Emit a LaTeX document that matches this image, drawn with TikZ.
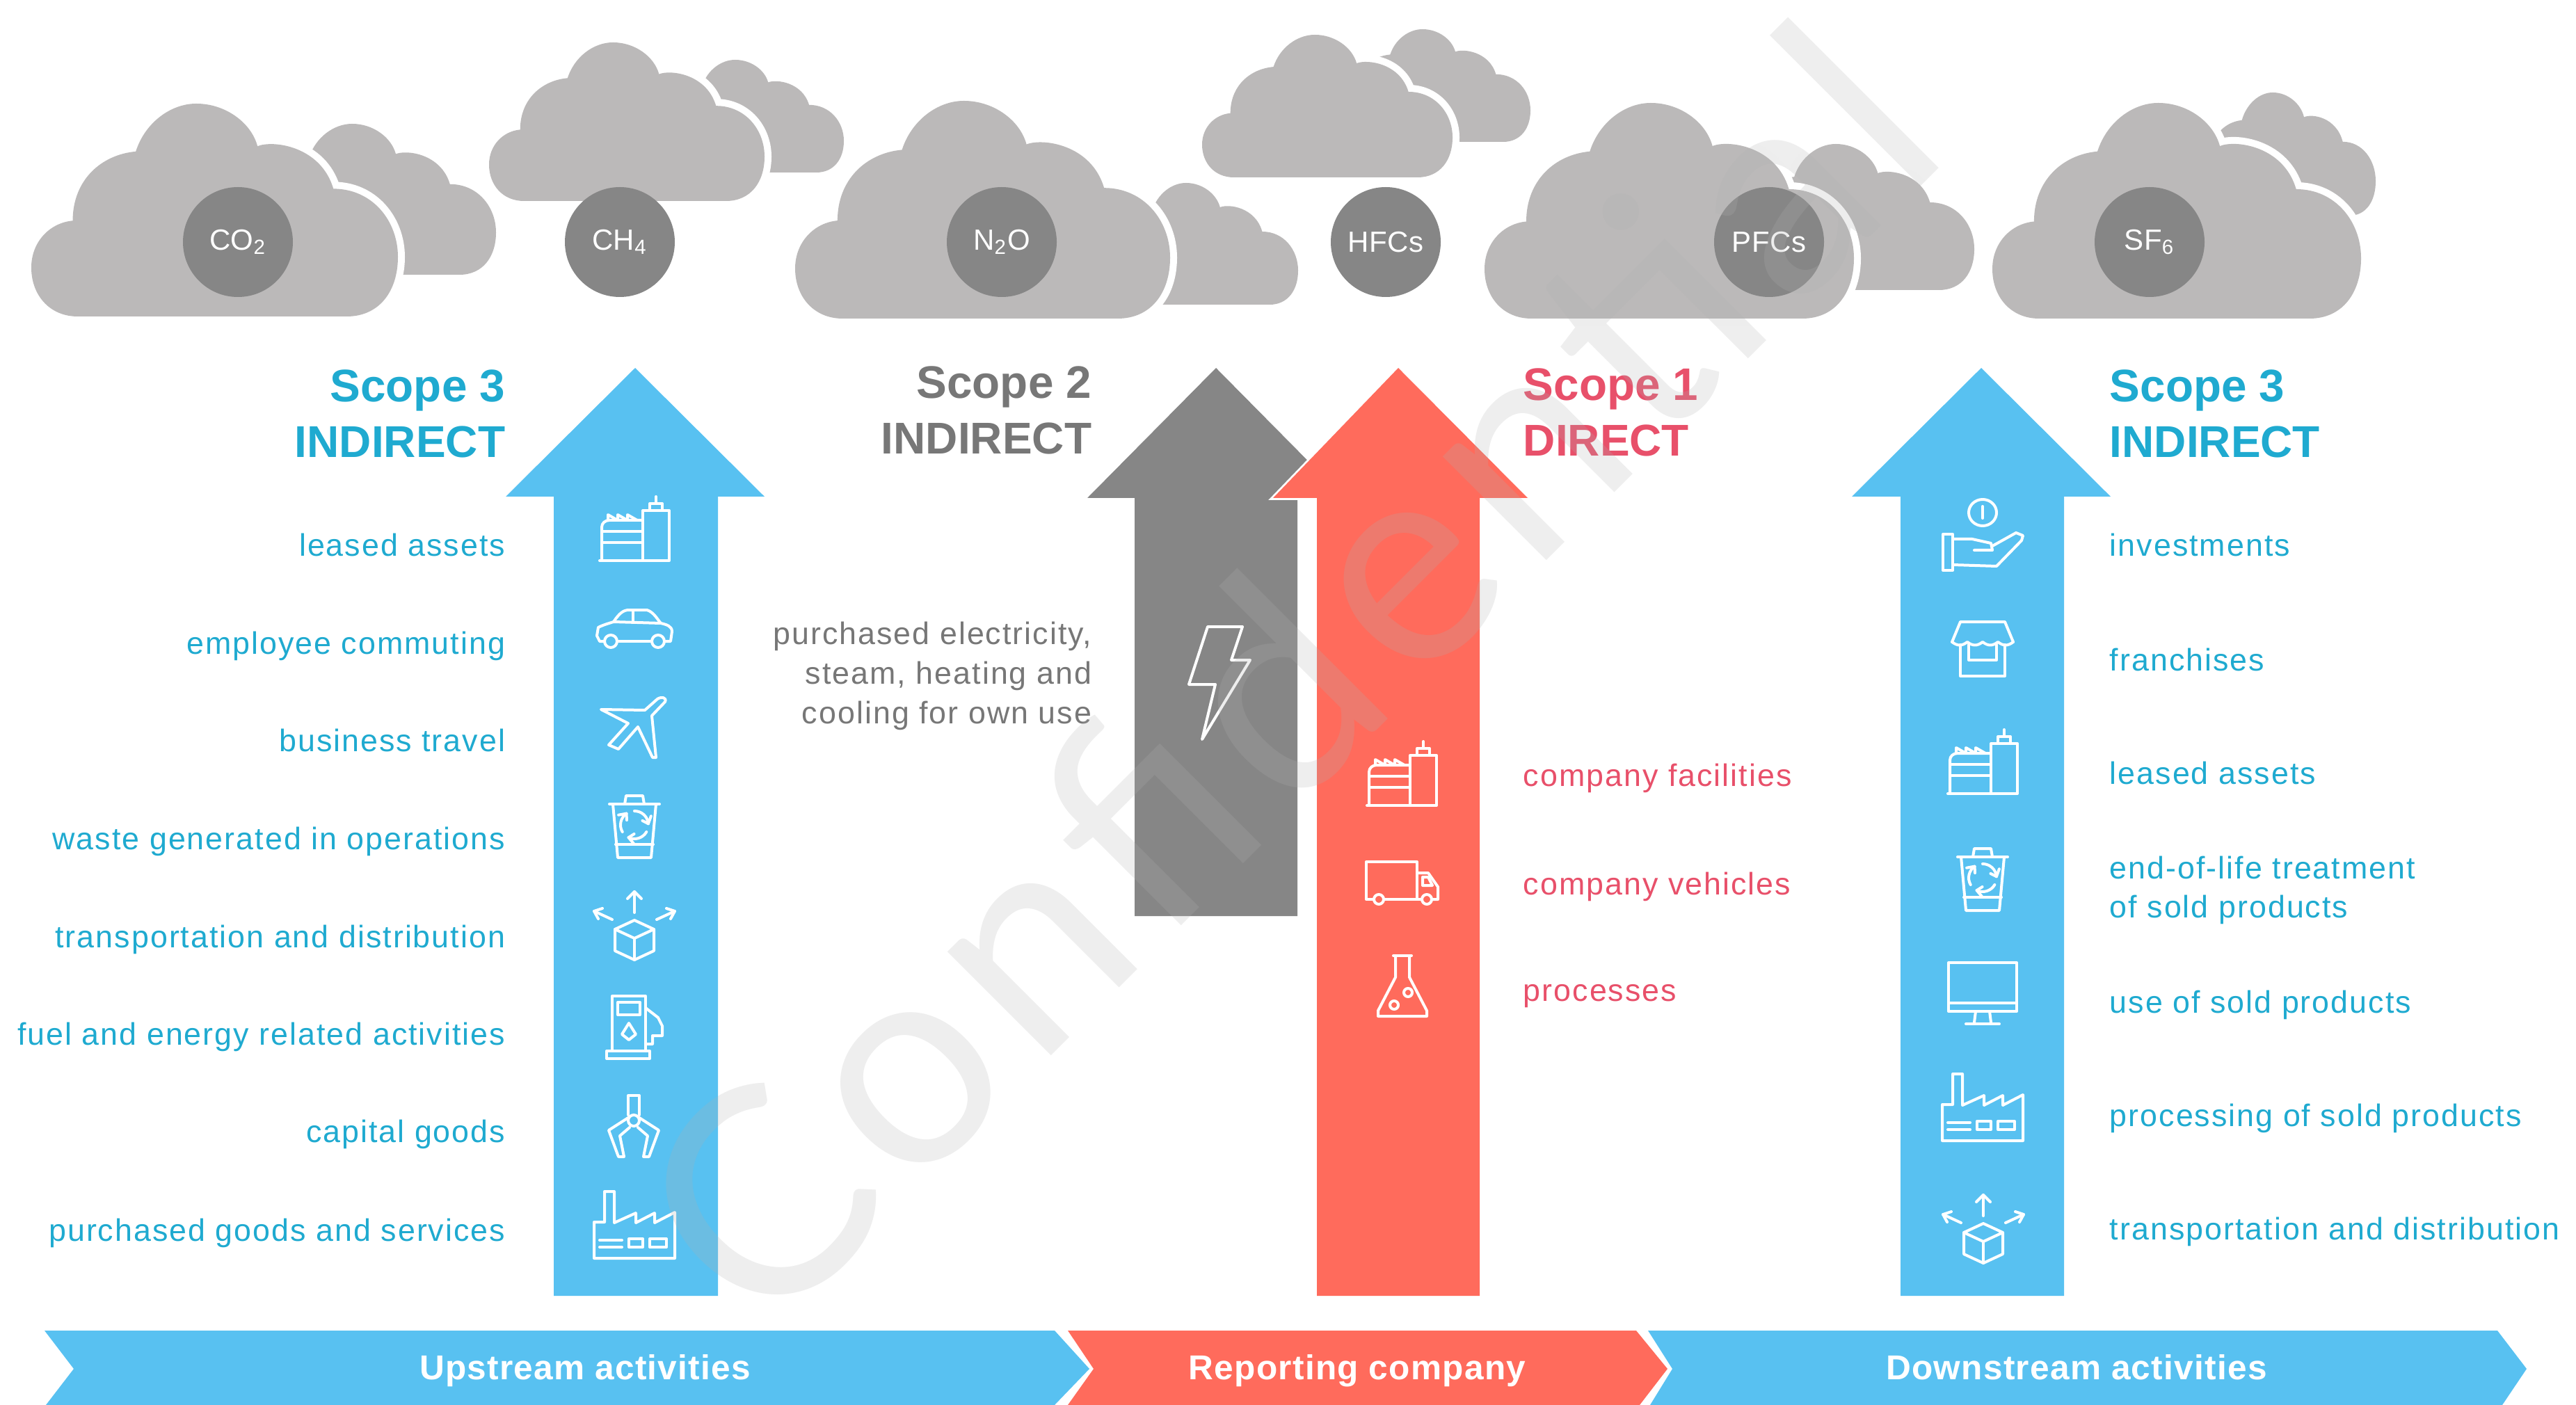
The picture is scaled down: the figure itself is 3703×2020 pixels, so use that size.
\documentclass[tikz,border=0pt]{standalone}
\usepackage{fontspec}
\setmainfont[LetterSpace=4.5]{Liberation Sans}
\newfontfamily\titlefont{Liberation Sans}
\newfontfamily\bandfont[LetterSpace=2.5]{Liberation Sans}
\newfontfamily\gasfont[LetterSpace=1]{Liberation Sans}
\newfontfamily\wmfont[LetterSpace=5.3]{Lato}
\definecolor{skyb}{HTML}{58C1F1}
\definecolor{coral}{HTML}{FF6B5C}
\definecolor{arrowgray}{HTML}{868686}
\definecolor{cloudgray}{HTML}{BBB9B9}
\definecolor{teal}{HTML}{1FAAD0}
\definecolor{rosetext}{HTML}{E8506A}
\definecolor{graytext}{HTML}{777777}
\tikzset{
  bigarrow/.style={fill=#1,draw=none},
  gas/.style={circle,fill=arrowgray,text=white,minimum size=39.5pt,inner sep=0pt,font=\fontsize{10.5}{12}\selectfont\gasfont},
  ic/.style={draw=white,line width=1pt,line join=round,line cap=round},
  lab/.style={inner sep=0pt,font=\fontsize{11.2}{14.2}\selectfont},
  sl/.style={lab,text height=8pt,text depth=2.2pt},
  lableft/.style={sl,anchor=east,text=teal},
  labright/.style={sl,anchor=west,text=teal},
  title/.style={inner sep=0pt,font=\fontsize{16}{20}\selectfont\titlefont\bfseries},
  bandtext/.style={inner sep=0pt,text=white,text height=9pt,text depth=2.5pt,font=\fontsize{12.4}{14}\selectfont\bandfont\bfseries}
}
\newcommand{\scopeword}[1]{{\fontsize{16.4}{20}\selectfont #1}}
\newcommand{\cloudpath}{(0.127,1) .. controls (0.05,1) and (0,0.9) .. (0,0.77) .. controls (0,0.65) and (0.05,0.56) .. (0.113,0.55)
 .. controls (0.113,0.36) and (0.19,0.24) .. (0.285,0.225)
 .. controls (0.31,0.09) and (0.38,0) .. (0.45,0)
 .. controls (0.53,0) and (0.60,0.09) .. (0.617,0.2)
 .. controls (0.66,0.17) and (0.79,0.20) .. (0.824,0.40)
 .. controls (0.93,0.40) and (1,0.55) .. (1,0.72)
 .. controls (1,0.88) and (0.95,1) .. (0.86,1) -- cycle}
\newcommand{\gascloud}[4]{\begin{scope}[shift={(#1,#2)},xscale=#3,yscale=#4]
 \path[draw=white,line width=5pt,line join=round] \cloudpath;
 \path[fill=cloudgray] \cloudpath;
\end{scope}}
\newcommand{\ictank}[2]{\begin{scope}[shift={(#1,#2)},ic]
 \draw[ic] (-50,46) -- (50,46) -- (50,-26) -- (12,-26) -- (12,46);
 \draw[ic] (22,-26)--(22,-36)--(40,-36)--(40,-26);
 \draw[ic] (31,-36)--(31,-46);
 \draw[ic] (-47,46) -- (-47,-2) .. controls (-47,-8) and (-42,-12) .. (-36,-12) -- (12,-12);
 \draw[ic] (-47,4)--(12,4);
 \draw[ic] (-47,20)--(12,20);
 \draw[ic] (-38,-12)--(-38,-20)--(-24,-12)--(-24,-20)--(-10,-12)--(-10,-20)--(4,-12);
\end{scope}}
\newcommand{\iccar}[2]{\begin{scope}[shift={(#1,#2)}]
 \draw[ic] (-24,18) -- (24,18);
 \draw[ic] (-44,18) -- (-50,18) -- (-54,10) -- (-52,-2) .. controls (-44,-6) and (-36,-8) .. (-30,-10) .. controls (-22,-22) and (-16,-27) .. (-8,-27) -- (18,-27) .. controls (28,-24) and (34,-12) .. (38,-8) .. controls (46,-6) and (54,-4) .. (54,4) -- (52,18) -- (44,18);
 \draw[ic] (-30,-10)--(38,-8);
 \draw[ic] (-2,-27)--(-2,-9);
 \draw[ic] (-34,18) circle (9);
 \draw[ic] (34,18) circle (9);
\end{scope}}
\newcommand{\icplane}[2]{\begin{scope}[shift={(#1,#2)}]
 \draw[ic] (-47,-25) -- (16,-24) -- (34,-40) .. controls (40,-44) and (48,-42) .. (45,-36) -- (26,-16) -- (32,44) -- (27,44) -- (6,0) -- (-22,32) -- (-36,26) -- (-8,-5) -- cycle;
\end{scope}}
\newcommand{\icbin}[2]{\begin{scope}[shift={(#1,#2)}]
 \draw[ic] (-36,-32)--(36,-32);
 \draw[ic] (-14,-32)--(-12,-44)--(12,-44)--(14,-32);
 \draw[ic] (-31,-32)--(-24,45)--(24,45)--(31,-32);
 \foreach \a in {30,150,270}{
   \pgfmathsetmacro{\e}{\a+85}
   \pgfmathsetmacro{\f}{\a+62}
   \draw[ic] ({20*cos(\a)},{-2+20*sin(\a)}) arc (\a:\e:20);
   \draw[ic] ({13*cos(\f)},{-2+13*sin(\f)})--({20*cos(\e)},{-2+20*sin(\e)})--({27*cos(\f)},{-2+27*sin(\f)});
 }
 \draw[ic] (-27,26)--(27,26);
\end{scope}}
\newcommand{\icbox}[2]{\begin{scope}[shift={(#1,#2)}]
 \draw[ic] (0,-7)--(28,6)--(28,37)--(0,50)--(-28,37)--(-28,6)--cycle;
 \draw[ic] (-28,6)--(0,19)--(28,6);
 \draw[ic] (0,19)--(0,50);
 \draw[ic] (0,-18)--(0,-48);
 \draw[ic] (-10,-38)--(0,-48)--(10,-38);
 \draw[ic] (-32,-8)--(-58,-20);
 \draw[ic] (-46,-24)--(-58,-20)--(-52,-9);
 \draw[ic] (32,-8)--(58,-20);
 \draw[ic] (46,-24)--(58,-20)--(52,-9);
\end{scope}}
\newcommand{\icfuel}[2]{\begin{scope}[shift={(#1,#2)}]
 \draw[ic] (-40,34) rectangle (22,45);
 \draw[ic] (-32,34)--(-32,-45)--(16,-45)--(16,34);
 \draw[ic] (-24,-36) rectangle (8,-18);
 \draw[ic] (-8,-6)--(2,10)--(-8,18)--(-18,10)--cycle;
 \draw[ic] (16,-28)--(34,-14)--(40,-2)--(40,12)--(26,12)--(26,24)--(16,24);
\end{scope}}
\newcommand{\icclaw}[2]{\begin{scope}[shift={(#1,#2)}]
 \draw[ic] (-8,-16)--(-8,-44)--(8,-44)--(8,-16);
 \draw[ic] (0,-8) circle (8);
 \draw[ic] (-8,-12) -- (-36,6) -- (-22,44) -- (-14,44) -- (-20,14) -- (-6,2);
 \draw[ic] (8,-12) -- (36,6) -- (22,44) -- (14,44) -- (20,14) -- (6,2);
\end{scope}}
\newcommand{\icfactory}[2]{\begin{scope}[shift={(#1,#2)}]
 \draw[ic] (-58,48)--(-58,-4)--(-43,-4)--(-43,-48)--(-29,-48)--(-29,-3)--(2,-17)--(2,-3)--(29,-17)--(29,-3)--(58,-18)--(58,48)--cycle;
 \draw[ic] (-50,22)--(-18,22);
 \draw[ic] (-50,32)--(-18,32);
 \draw[ic] (-8,20) rectangle (12,32);
 \draw[ic] (22,20) rectangle (46,32);
\end{scope}}
\newcommand{\ichand}[2]{\begin{scope}[shift={(#1,#2)}]
 \draw[ic] (0,-32) ellipse (20 and 19);
 \draw[ic] (0,-41)--(0,-24);
 \draw[ic] (-57,-1) rectangle (-43,51);
 \draw[ic] (-43,6)--(-15,6)--(12,12)--(14,22)--(-12,22);
 \draw[ic] (14,16)--(48,-3)--(58,1)--(56,8)--(20,45)--(-43,43);
\end{scope}}
\newcommand{\icstore}[2]{\begin{scope}[shift={(#1,#2)}]
 \draw[ic] (-44,-10)--(-32,-39)--(32,-39)--(44,-10);
 \draw[ic] (-44,-10) .. controls (-36,-4) and (-30,-4) .. (-22,-10) .. controls (-14,-4) and (-8,-4) .. (0,-10) .. controls (8,-4) and (14,-4) .. (22,-10) .. controls (30,-4) and (36,-4) .. (44,-10);
 \draw[ic] (-32,-6)--(-32,39)--(32,39)--(32,-6);
 \draw[ic] (-20,-6)--(-20,16)--(20,16)--(20,-6);
\end{scope}}
\newcommand{\icmonitor}[2]{\begin{scope}[shift={(#1,#2)}]
 \draw[ic] (-49,-44) rectangle (49,26);
 \draw[ic] (-49,14)--(49,14);
 \draw[ic] (-10,26)--(-12,42);
 \draw[ic] (10,26)--(12,42);
 \draw[ic] (-24,44)--(24,44);
\end{scope}}
\newcommand{\ictruck}[2]{\begin{scope}[shift={(#1,#2)}]
 \draw[ic] (-26,24)--(22,24)--(22,-30)--(-51,-30)--(-51,24)--(-40,24);
 \draw[ic] (22,-14)--(38,-14)--(52,6)--(52,24)--(44,24);
 \draw[ic] (30,-8)--(38,-8)--(44,4)--(30,4)--cycle;
 \draw[ic] (22,24)--(28,24);
 \draw[ic] (-33,24) circle (7);
 \draw[ic] (36,24) circle (7);
\end{scope}}
\newcommand{\icflask}[2]{\begin{scope}[shift={(#1,#2)}]
 \draw[ic] (-13,-43)--(13,-43);
 \draw[ic] (-10,-43)--(-10,-12)--(-35,36)--(-35,44)--(35,44)--(35,36)--(10,-12)--(10,-43);
 \draw[ic] (-12,28) circle (6);
 \draw[ic] (8,10) circle (6);
\end{scope}}
\begin{document}
\begin{tikzpicture}[x=0.25pt,y=-0.25pt]
\useasboundingbox (0,0) rectangle (3703,2020);
\clip (0,0) rectangle (3703,2020);
% clouds
\gascloud{337}{178}{376}{217}
\gascloud{45}{149}{527}{306}
\gascloud{929}{86}{284}{162}
\gascloud{703}{61}{396}{228}
\gascloud{1573}{263}{293}{175}
\gascloud{1143}{145}{539}{313}
\gascloud{1918}{42}{282}{162}
\gascloud{1728}{50}{360}{205}
\gascloud{2476}{207}{362}{210}
\gascloud{2134}{148}{531}{310}
\gascloud{3146}{133}{269}{177}
\gascloud{2864}{148}{530}{310}
% gas circles
\node[gas] (co2) at (342,348) {CO\textsubscript{2}};
\node[gas] (ch4) at (891,348) {CH\textsubscript{4}};
\node[gas] (n2o) at (1440,348) {N\textsubscript{2}O};
\node[gas] (hfc) at (1992,348) {HFCs};
\node[gas] (pfc) at (2543,348) {PFCs};
\node[gas] (sf6) at (3090,348) {SF\textsubscript{6}};
% arrows
\path[bigarrow=skyb] (913,529)--(1099,714)--(1032,714)--(1032,1863)--(796,1863)--(796,714)--(727,714)--cycle;
\path[bigarrow=arrowgray] (1748,529)--(1933,716)--(1865,716)--(1865,1317)--(1631,1317)--(1631,716)--(1563,716)--cycle;
\path[draw=white,line width=1.4pt,line join=miter] (2010,529)--(2196,716)--(2127,716)--(2127,1863)--(1893,1863)--(1893,716)--(1830,716)--cycle;
\path[bigarrow=coral] (2010,529)--(2196,716)--(2127,716)--(2127,1863)--(1893,1863)--(1893,716)--(1830,716)--cycle;
\path[bigarrow=skyb] (2848,529)--(3034,714)--(2967,714)--(2967,1863)--(2732,1863)--(2732,714)--(2662,714)--cycle;
% bottom band
\path[bigarrow=skyb] (64,1913)--(1516,1913)--(1566,1968)--(1516,2020)--(66,2020)--(106,1968)--cycle;
\path[bigarrow=coral] (1535,1913)--(2352,1913)--(2397,1968)--(2357,2020)--(1535,2020)--(1572,1968)--cycle;
\path[bigarrow=skyb] (2369,1913)--(3590,1913)--(3632,1968)--(3597,2020)--(2372,2020)--(2404,1968)--cycle;
\node[bandtext] (up) at (841,1970) {Upstream activities};
\node[bandtext] (rep) at (1951,1970) {Reporting company};
\node[bandtext] (down) at (2985,1970) {Downstream activities};
% titles
\node[title,anchor=east,align=right,text=teal] (s3l) at (727,595) {\scopeword{Scope 3}\\INDIRECT};
\node[title,anchor=east,align=right,text=graytext] (s2) at (1570,590) {\scopeword{Scope 2}\\INDIRECT};
\node[title,anchor=west,align=left,text=rosetext] (s1) at (2189,593) {\scopeword{Scope 1}\\DIRECT};
\node[title,anchor=west,align=left,text=teal] (s3r) at (3032,595) {\scopeword{Scope 3}\\INDIRECT};
% left labels
\node[lableft] (l1) at (727,788) {leased assets};
\node[lableft] (l2) at (727,929) {employee commuting};
\node[lableft] (l3) at (727,1069) {business travel};
\node[lableft] (l4) at (727,1210) {waste generated in operations};
\node[lableft] (l5) at (727,1351) {transportation and distribution};
\node[lableft] (l6) at (727,1491) {fuel and energy related activities};
\node[lableft] (l7) at (727,1631) {capital goods};
\node[lableft] (l8) at (727,1773) {purchased goods and services};
% scope 2 label
\node[lab,anchor=east,align=right,text=graytext] (g1) at (1570,972) {purchased electricity,\\steam, heating and\\cooling for own use};
% scope 1 labels
\node[sl,anchor=west,text=rosetext] (c1) at (2189,1119) {company facilities};
\node[sl,anchor=west,text=rosetext] (c2) at (2189,1275) {company vehicles};
\node[sl,anchor=west,text=rosetext] (c3) at (2189,1428) {processes};
% right labels
\node[labright] (r1) at (3032,788) {investments};
\node[labright] (r2) at (3032,953) {franchises};
\node[labright] (r3) at (3032,1116) {leased assets};
\node[lab,anchor=west,align=left,text=teal] (r4) at (3032,1280) {end-of-life treatment\\of sold products};
\node[labright] (r5) at (3032,1445) {use of sold products};
\node[labright] (r6) at (3032,1608) {processing of sold products};
\node[labright] (r7) at (3032,1771) {transportation and distribution};
% icons
\ictank{912}{760}
\iccar{912}{904}
\icplane{911}{1045}
\icbin{912}{1188}
\icbox{912}{1330}
\icfuel{912}{1477}
\icclaw{911}{1619}
\icfactory{912}{1761}
\ichand{2850}{769}
\icstore{2850}{933}
\ictank{2850}{1095}
\icbin{2850}{1264}
\icmonitor{2850}{1428}
\icfactory{2850}{1592}
\icbox{2851}{1766}
\ictank{2015}{1112}
\ictruck{2015}{1269}
\icflask{2016}{1417}
\draw[ic] (1736,901)--(1786,901)--(1770,949)--(1797,949)--(1728,1063)--(1747,984)--(1709,984)--cycle;
% watermark
\node[anchor=base west,rotate=45,inner sep=0pt,text=black!31,text opacity=.22,font=\fontsize{104}{110}\selectfont\wmfont] (wm) at (1098,1931) {Confidential};
\end{tikzpicture}
\end{document}
